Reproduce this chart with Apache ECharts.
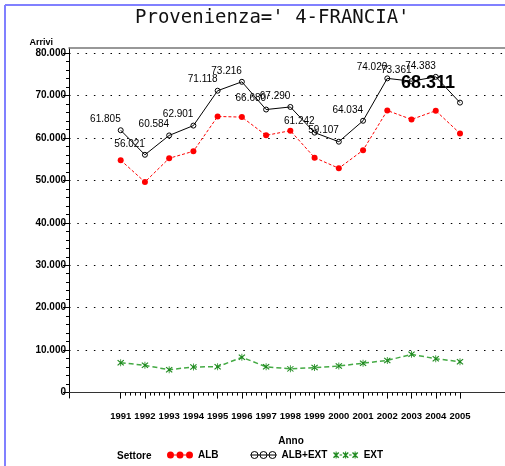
<!DOCTYPE html>
<html>
<head>
<meta charset="utf-8">
<script src="https://cdn.jsdelivr.net/npm/echarts@6/dist/echarts.min.js"></script>
<style>
  html, body { margin: 0; padding: 0; background: #fff; }
  #chart { width: 505px; height: 466px; }
</style>
</head>
<body>
<div id="chart"></div>
<script>
// dati
const years = [1991, 1992, 1993, 1994, 1995, 1996, 1997, 1998, 1999, 2000, 2001, 2002, 2003, 2004, 2005];
const alb = [54750, 49600, 55200, 56850, 65050, 64900, 60600, 61700, 55350, 52850, 57100, 66450, 64350, 66400, 61050];
const albExt = [61805, 56021, 60584, 62901, 71118, 73216, 66680, 67290, 61242, 59107, 64034, 74020, 73361, 74383, 68311];
const ext = [7050, 6420, 5380, 6050, 6070, 8320, 6080, 5590, 5890, 6260, 6930, 7570, 9010, 7980, 7260];
const yTicks = [0, 10000, 20000, 30000, 40000, 50000, 60000, 70000, 80000];

const SANS = "'Liberation Sans', Arial, sans-serif";

function fmt(v) {
  return String(v).replace(/\B(?=(\d{3})+(?!\d))/g, '.');
}

// tacche secondarie
const xMinor = [];
for (let i = 0; i < years.length - 1; i++) {
  for (let k = 1; k < 5; k++) xMinor.push(years[i] + k * 0.2);
}
const yMinor = [];
for (let v = 0; v < 80000; v += 2000) {
  if (v % 10000 !== 0) yMinor.push(v);
}

function star(cx, cy, r) {
  const w = 0.5;
  const d = r * 0.75;
  return 'M' + (cx - w) + ',' + (cy - r) + 'h' + (2 * w) + 'v' + (2 * r) + 'h' + (-2 * w) + 'Z' +
    'M' + (cx - d - 0.5) + ',' + (cy - d + 0.5) + 'L' + (cx - d + 0.5) + ',' + (cy - d - 0.5) +
    'L' + (cx + d + 0.5) + ',' + (cy + d - 0.5) + 'L' + (cx + d - 0.5) + ',' + (cy + d + 0.5) + 'Z' +
    'M' + (cx + d - 0.5) + ',' + (cy - d - 0.5) + 'L' + (cx + d + 0.5) + ',' + (cy - d + 0.5) +
    'L' + (cx - d + 0.5) + ',' + (cy + d + 0.5) + 'L' + (cx - d - 0.5) + ',' + (cy + d - 0.5) + 'Z';
}
const starSymbol = 'path://' + star(5, 5, 5);
const circ = (x) => 'M' + x + ',3.5a3.5,3.5 0 1,0 7,0a3.5,3.5 0 1,0 -7,0Z';
const iconAlb = 'path://' + circ(0) + circ(9.5) + circ(19) + 'M7,3h2.5v1h-2.5ZM16.5,3h2.5v1h-2.5Z';
const iconTot = 'path://' + circ(0.5) + circ(9.5) + circ(18.5) + 'M0,3.5L26,3.5';
const iconExt = 'path://' + star(3.5, 3.5, 3.5) + star(13, 3.5, 3.5) + star(22.5, 3.5, 3.5) +
  'M7,3h2.5v1h-2.5ZM16.5,3h2.5v1h-2.5Z';

const chart = echarts.init(document.getElementById('chart'));

const labelFont = { fontFamily: SANS, fontWeight: 'bold', fontSize: 10, color: '#000' };

const totData = years.map((y, i) => {
  const item = { value: [y, albExt[i]] };
  if (i === years.length - 1) {
    item.label = {
      fontSize: 18, fontWeight: 'bold', fontFamily: SANS, offset: [-5, -5]
    };
  }
  return item;
});

const legendBase = {
  top: 450, padding: 0, itemWidth: 26, itemHeight: 7,
  textStyle: labelFont, selectedMode: false
};

const X_MIN = 1988.867, X_MAX = 2006.857;
const Y_MIN = -1274, Y_MAX = 81179;

const option = {
  animation: false,
  graphic: [
    { type: 'line', shape: { x1: 5, y1: 5, x2: 5, y2: 466 }, style: { stroke: '#8080ff', lineWidth: 2 } },
    { type: 'line', shape: { x1: 5, y1: 5, x2: 505, y2: 5 }, style: { stroke: '#8080ff', lineWidth: 2 } }
  ],
  title: [
    {
      text: "Provenienza=' 4-FRANCIA'",
      left: 135, top: 9, padding: 0,
      textStyle: { fontFamily: "'DejaVu Sans Mono', monospace", fontWeight: 'normal', fontSize: 19, color: '#111' }
    },
    {
      text: 'Settore',
      left: 117, top: 451, padding: 0,
      textStyle: labelFont
    }
  ],
  legend: [
    Object.assign({ left: 167, data: [{ name: 'ALB', icon: iconAlb }] }, legendBase),
    Object.assign({ left: 250, data: [{ name: 'ALB+EXT', icon: iconTot, itemStyle: { color: 'transparent', borderColor: '#000', borderWidth: 1 } }] }, legendBase),
    Object.assign({ left: 333, data: [{ name: 'EXT', icon: iconExt }] }, legendBase)
  ],
  grid: {
    left: 69, top: 48, right: 0, bottom: 68
  },
  xAxis: [
    {
      type: 'value', min: X_MIN, max: X_MAX,
      name: 'Anno', nameLocation: 'middle', nameGap: 38,
      nameTextStyle: Object.assign({ padding: [0, 0, 0, 8] }, labelFont),
      axisLine: { lineStyle: { color: '#333', width: 1 } },
      axisTick: { customValues: years, length: 6, lineStyle: { color: '#000' } },
      axisLabel: Object.assign({
        customValues: years, margin: 13, interval: 0, hideOverlap: false,
        showMinLabel: true, showMaxLabel: true, formatter: (v) => String(v)
      }, labelFont, { fontSize: 9.5 }),
      splitLine: { show: false }
    },
    {
      type: 'value', min: X_MIN, max: X_MAX, position: 'bottom',
      axisLine: { show: false },
      axisTick: { customValues: xMinor, length: 3, lineStyle: { color: '#000' } },
      axisLabel: { show: false },
      splitLine: { show: false }
    },
    {
      type: 'value', min: X_MIN, max: X_MAX, position: 'top',
      axisLine: { show: true, lineStyle: { color: '#777', width: 1.5 } },
      axisTick: { show: false },
      axisLabel: { show: false },
      splitLine: { show: false }
    }
  ],
  yAxis: [
    {
      type: 'value', min: Y_MIN, max: Y_MAX,
      name: 'Arrivi', nameLocation: 'end', nameGap: 1,
      nameTextStyle: Object.assign({ align: 'right', padding: [0, 16, 0, 0] }, labelFont, { fontSize: 9 }),
      axisLine: { show: true, lineStyle: { color: '#000', width: 1 } },
      axisTick: { show: true, customValues: yTicks, length: 6, lineStyle: { color: '#000' } },
      axisLabel: Object.assign({
        customValues: yTicks, margin: 3, formatter: fmt,
        showMinLabel: true, showMaxLabel: true
      }, labelFont),
      splitLine: { show: true, lineStyle: { type: [1.5, 6.8], color: '#000', width: 1 } }
    },
    {
      type: 'value', min: Y_MIN, max: Y_MAX, position: 'left',
      axisLine: { show: false },
      axisTick: { show: true, customValues: yMinor, length: 3, lineStyle: { color: '#000' } },
      axisLabel: { show: false },
      splitLine: { show: false }
    }
  ],
  series: [
    {
      name: 'ALB', type: 'line',
      data: years.map((y, i) => [y, alb[i]]),
      symbol: 'circle', symbolSize: 6,
      itemStyle: { color: '#ff0000' },
      lineStyle: { color: '#ff0000', width: 1, type: [3, 2] },
      z: 3
    },
    {
      name: 'ALB+EXT', type: 'line',
      data: totData,
      symbol: 'circle', symbolSize: 5,
      itemStyle: { color: 'transparent', borderColor: '#000', borderWidth: 1 },
      lineStyle: { color: '#000', width: 1 },
      label: {
        show: true, position: 'top', distance: 3, align: 'right',
        fontFamily: SANS, fontSize: 10, color: '#000',
        formatter: (p) => fmt(p.value[1])
      },
      z: 4
    },
    {
      name: 'EXT', type: 'line',
      data: years.map((y, i) => [y, ext[i]]),
      symbol: starSymbol, symbolSize: 7,
      itemStyle: { color: '#1f8a1f' },
      lineStyle: { color: '#44aa44', width: 1.5, type: [5, 3] },
      z: 3
    }
  ]
};

chart.setOption(option);
</script>
</body>
</html>
